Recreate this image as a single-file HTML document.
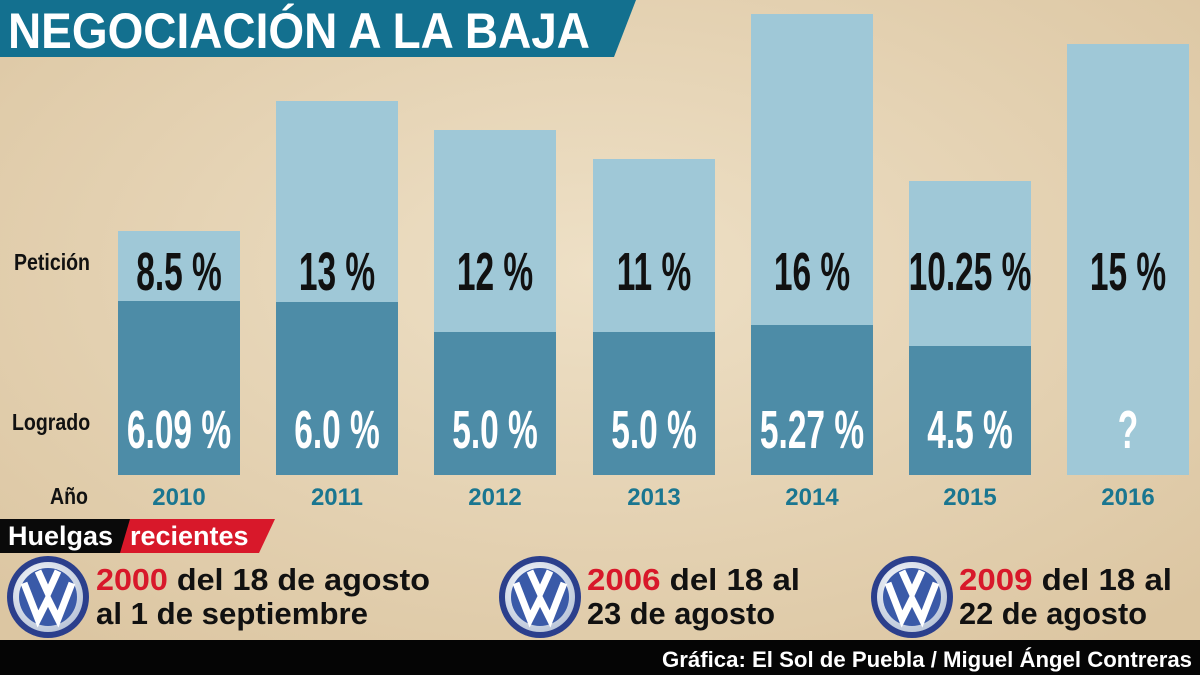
<!DOCTYPE html>
<html><head><meta charset="utf-8"><style>
body{margin:0;width:1200px;height:675px;overflow:hidden;background:#e6d5b8}
svg{display:block}
</style></head><body>
<svg width="1200" height="675" viewBox="0 0 1200 675" xmlns="http://www.w3.org/2000/svg" font-family="Liberation Sans, DejaVu Sans, sans-serif">
<defs>
<radialGradient id="bg" cx="50%" cy="40%" r="70%"><stop offset="0" stop-color="#eee0c6"/><stop offset="1" stop-color="#dcc6a2"/></radialGradient>
<radialGradient id="vw" cx="40%" cy="35%" r="70%"><stop offset="0" stop-color="#ffffff"/><stop offset="1" stop-color="#b8c4d8"/></radialGradient>
</defs>
<rect width="1200" height="675" fill="url(#bg)"/>
<polygon points="0,0 636,0 614,57 0,57" fill="#13708f"/>
<text x="8" y="48" font-size="50" font-weight="bold" fill="#fff" textLength="582" lengthAdjust="spacingAndGlyphs">NEGOCIACIÓN A LA BAJA</text>
<g fill="#9fc8d7">
<rect x="118" y="231" width="122" height="244"/>
<rect x="276" y="101" width="122" height="374"/>
<rect x="434" y="130" width="122" height="345"/>
<rect x="593" y="159" width="122" height="316"/>
<rect x="751" y="14" width="122" height="461"/>
<rect x="909" y="181" width="122" height="294"/>
<rect x="1067" y="44" width="122" height="431"/>
</g>
<g fill="#4d8ca7">
<rect x="118" y="301" width="122" height="174"/>
<rect x="276" y="302" width="122" height="173"/>
<rect x="434" y="332" width="122" height="143"/>
<rect x="593" y="332" width="122" height="143"/>
<rect x="751" y="325" width="122" height="150"/>
<rect x="909" y="346" width="122" height="129"/>
</g>
<g font-size="54" font-weight="bold" text-anchor="middle" fill="#111">
<text transform="translate(179,290) scale(0.62,1)">8.5 %</text>
<text transform="translate(337,290) scale(0.62,1)">13 %</text>
<text transform="translate(495,290) scale(0.62,1)">12 %</text>
<text transform="translate(654,290) scale(0.62,1)">11 %</text>
<text transform="translate(812,290) scale(0.62,1)">16 %</text>
<text transform="translate(970,290) scale(0.62,1)">10.25 %</text>
<text transform="translate(1128,290) scale(0.62,1)">15 %</text>
</g>
<g font-size="54" font-weight="bold" text-anchor="middle" fill="#fff">
<text transform="translate(179,448) scale(0.62,1)">6.09 %</text>
<text transform="translate(337,448) scale(0.62,1)">6.0 %</text>
<text transform="translate(495,448) scale(0.62,1)">5.0 %</text>
<text transform="translate(654,448) scale(0.62,1)">5.0 %</text>
<text transform="translate(812,448) scale(0.62,1)">5.27 %</text>
<text transform="translate(970,448) scale(0.62,1)">4.5 %</text>
<text transform="translate(1128,448) scale(0.62,1)">?</text>
</g>
<g font-size="23" font-weight="bold" fill="#111">
<text transform="translate(14,270) scale(0.85,1)">Petición</text>
<text transform="translate(12,430) scale(0.85,1)">Logrado</text>
<text transform="translate(50,504) scale(0.85,1)">Año</text>
</g>
<g font-size="24" font-weight="bold" fill="#1a7690" text-anchor="middle">
<text x="179" y="505">2010</text><text x="337" y="505">2011</text><text x="495" y="505">2012</text>
<text x="654" y="505">2013</text><text x="812" y="505">2014</text><text x="970" y="505">2015</text><text x="1128" y="505">2016</text>
</g>
<rect x="0" y="519" width="130" height="34" fill="#0a0a0a"/>
<polygon points="130,519 275,519 259,553 120,553" fill="#d8182a"/>
<text x="8" y="545" font-size="27" font-weight="bold" fill="#fff">Huelgas</text>
<text x="130" y="545" font-size="27" font-weight="bold" fill="#fff">recientes</text>
<g transform="translate(48,597)">
<circle r="41" fill="#2b3f8c"/><circle r="35" fill="url(#vw)"/><circle r="29" fill="#3a5aa8"/>
<path d="M-24,-14 L-10,22 L0,2 L10,22 L24,-14 M-10,-26 L0,-4 L10,-26" stroke="#fff" stroke-width="7" fill="none"/>
</g>
<g transform="translate(540,597)">
<circle r="41" fill="#2b3f8c"/><circle r="35" fill="url(#vw)"/><circle r="29" fill="#3a5aa8"/>
<path d="M-24,-14 L-10,22 L0,2 L10,22 L24,-14 M-10,-26 L0,-4 L10,-26" stroke="#fff" stroke-width="7" fill="none"/>
</g>
<g transform="translate(912,597)">
<circle r="41" fill="#2b3f8c"/><circle r="35" fill="url(#vw)"/><circle r="29" fill="#3a5aa8"/>
<path d="M-24,-14 L-10,22 L0,2 L10,22 L24,-14 M-10,-26 L0,-4 L10,-26" stroke="#fff" stroke-width="7" fill="none"/>
</g>
<g font-size="31" font-weight="bold" fill="#111">
<text x="96" y="590" textLength="334" lengthAdjust="spacingAndGlyphs"><tspan fill="#d8182a">2000</tspan> del 18 de agosto</text>
<text x="96" y="624" textLength="272" lengthAdjust="spacingAndGlyphs">al 1 de septiembre</text>
<text x="587" y="590" textLength="213" lengthAdjust="spacingAndGlyphs"><tspan fill="#d8182a">2006</tspan> del 18 al</text>
<text x="587" y="624" textLength="188" lengthAdjust="spacingAndGlyphs">23 de agosto</text>
<text x="959" y="590" textLength="213" lengthAdjust="spacingAndGlyphs"><tspan fill="#d8182a">2009</tspan> del 18 al</text>
<text x="959" y="624" textLength="188" lengthAdjust="spacingAndGlyphs">22 de agosto</text>
</g>
<rect x="0" y="640" width="1200" height="35" fill="#050505"/>
<text x="1192" y="667" font-size="22" font-weight="bold" fill="#fff" text-anchor="end" textLength="530" lengthAdjust="spacingAndGlyphs">Gráfica: El Sol de Puebla / Miguel Ángel Contreras</text>
</svg>
</body></html>
